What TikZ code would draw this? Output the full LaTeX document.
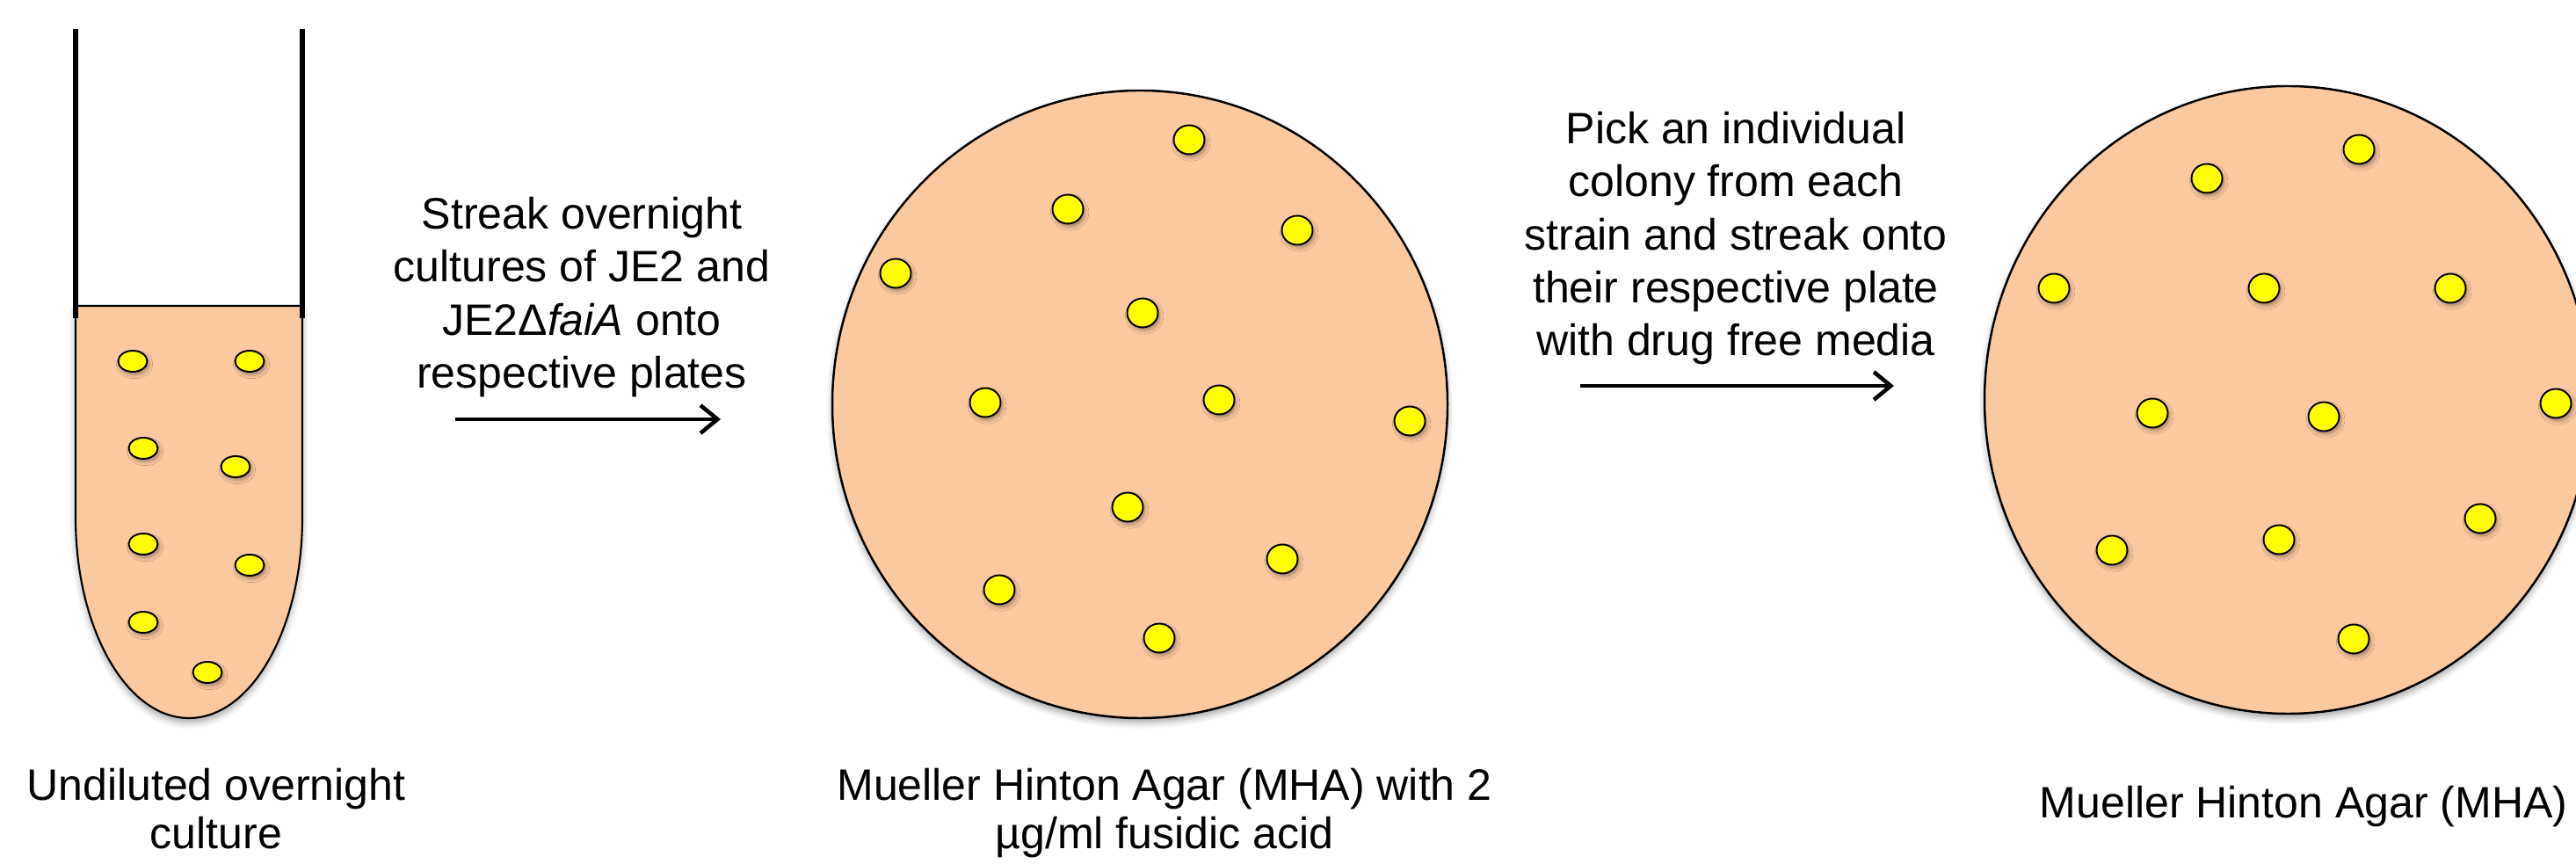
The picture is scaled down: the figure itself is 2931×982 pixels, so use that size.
\documentclass[tikz,border=0pt]{standalone}
\usepackage{fontspec}
\setmainfont{Liberation Sans}
\usetikzlibrary{arrows.meta,shadows.blur}

\definecolor{agar}{RGB}{250,201,160}
\definecolor{colonyyellow}{RGB}{255,255,0}

\begin{document}
\begin{tikzpicture}[x=0.01cm,y=0.01cm,
    colony/.style={draw=black,line width=0.55pt,fill=colonyyellow,
      blur shadow={shadow xshift=0.6pt,shadow yshift=-1pt,shadow blur radius=1.2pt,shadow opacity=35}},
    dish/.style={draw=black,line width=0.7pt,fill=agar,
      blur shadow={shadow xshift=0pt,shadow yshift=-1.5pt,shadow blur radius=2pt,shadow opacity=35}},
    caption/.style={align=center,inner sep=0pt,font=\fontsize{14.23}{15.65}\selectfont},
    instr/.style={align=center,inner sep=0pt,font=\fontsize{14.23}{17.07}\selectfont},
    flow/.style={line width=1.3pt,-{Straight Barb[length=5.5pt,width=9pt]}}]
  \useasboundingbox (0,0) rectangle (2931,982);

  % overnight culture tube
  \draw[dish,line width=0.6pt] (86,634) -- (86,393)
    arc[start angle=180,end angle=360,x radius=129,y radius=228] -- (344,634) -- cycle;
  \draw[line width=1.45pt] (86,949) -- (86,620);
  \draw[line width=1.45pt] (344,949) -- (344,620);
  \foreach \x/\y in {151/571,284/571,163/472,268/451,163/363,284/339,163/274,236/217}
    \draw[colony] (\x,\y) ellipse[x radius=16.5,y radius=12];

  % MHA plate with fusidic acid
  \draw[dish] (1297,522) ellipse[x radius=350,y radius=357];
  \foreach \x/\y in {1353/823,1215/744,1476/720,1019/671,1300/626,1121/524,
                     1387/527,1604/503,1283/405,1459/346,1137/311,1319/256}
    \draw[colony] (\x,\y) ellipse[x radius=17.5,y radius=16.5];

  % drug free MHA plate
  \draw[dish] (2603,527) ellipse[x radius=345,y radius=357];
  \foreach \x/\y in {2684/812,2511/779,2337/654,2576/654,2788/654,2449/512,
                     2644/508,2908/523,2822/392,2593/368,2403/356,2678/255}
    \draw[colony] (\x,\y) ellipse[x radius=17.5,y radius=16.5];

  % captions
  \node[caption,anchor=north] at (246,108) (tubelbl) {Undiluted overnight\\culture};
  \node[caption,anchor=north] at (1325,108) (fusidiclbl) {Mueller Hinton Agar (MHA) with 2\\µg/ml fusidic acid};
  \node[caption,anchor=north] at (2621,88) (mhalbl) {Mueller Hinton Agar (MHA)};

  % steps
  \node[instr,anchor=north] at (662,758) (streak) {Streak overnight\\cultures of JE2 and\\JE2Δ\textit{faiA} onto\\respective plates};
  \node[instr,anchor=north] at (1975,855) (pick) {Pick an individual\\colony from each\\strain and streak onto\\their respective plate\\with drug free media};
  \coordinate (streakfrom) at (518,505);
  \coordinate (streakto) at (820,505);
  \coordinate (pickfrom) at (1798,543);
  \coordinate (pickto) at (2155,543);
  \draw[flow] (streakfrom) -- (streakto);
  \draw[flow] (pickfrom) -- (pickto);
\end{tikzpicture}
\end{document}
